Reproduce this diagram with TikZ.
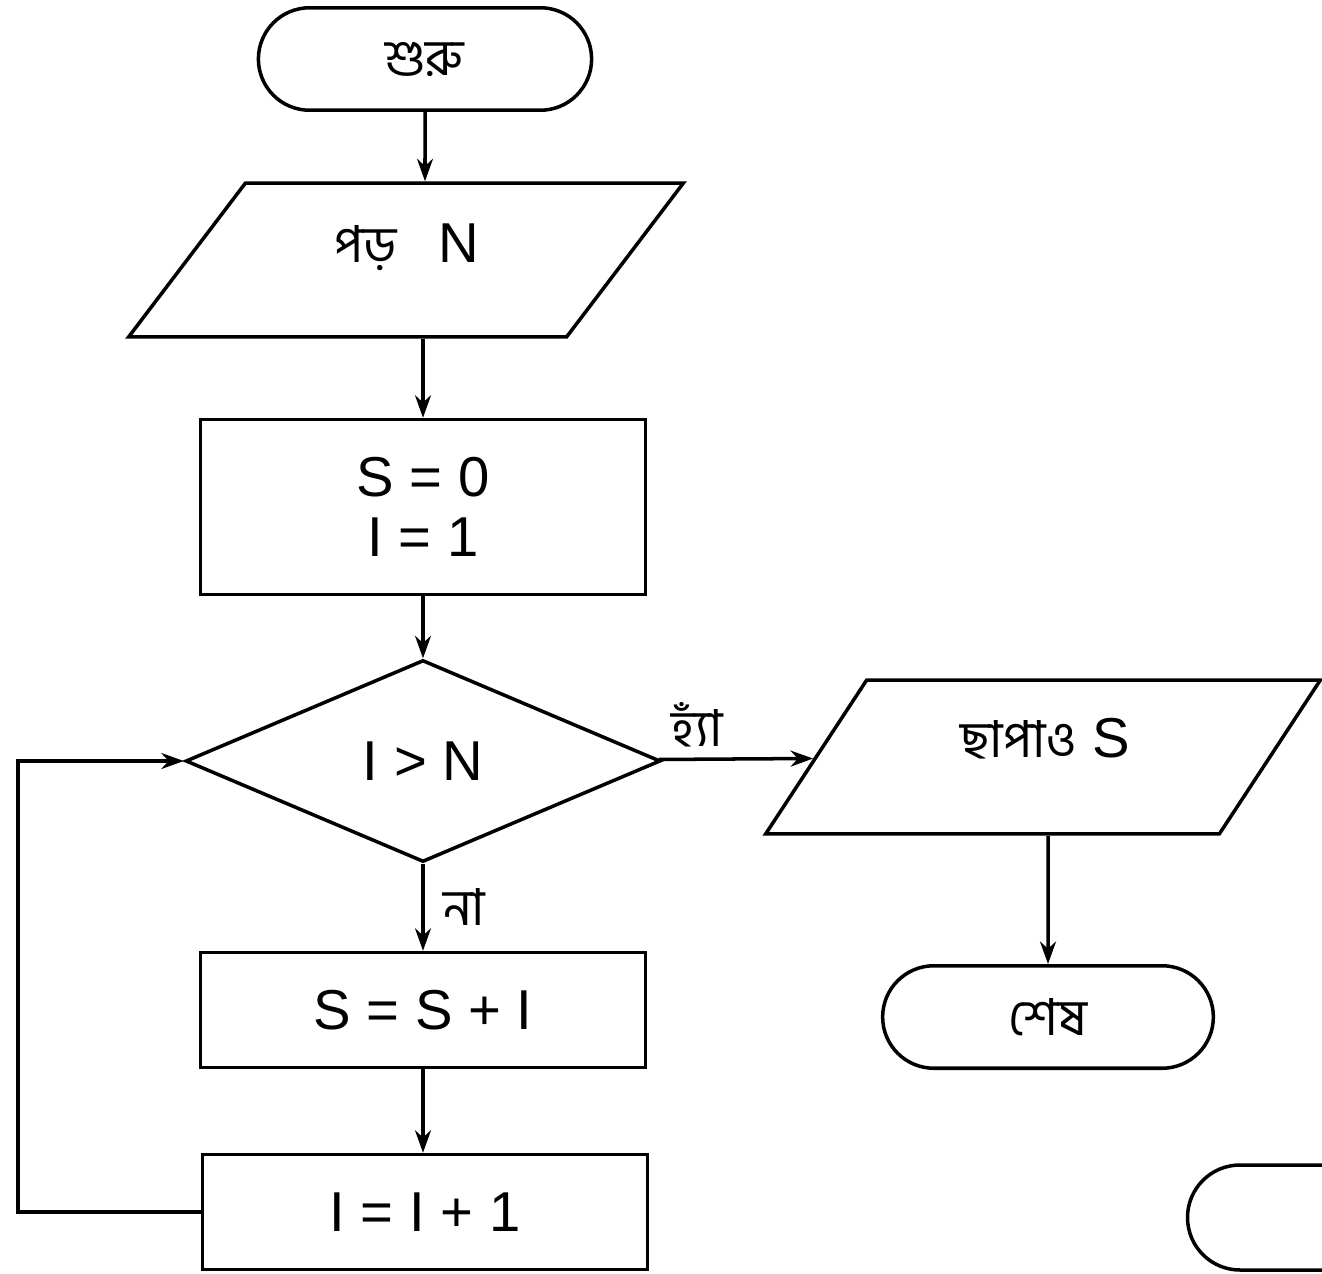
\documentclass[tikz,border=0pt]{standalone}
\usepackage{fontspec}
\setmainfont{Liberation Sans}
\newfontfamily\bn[Script=Bengali]{Hind Siliguri}
\usepackage{tikz}
\usetikzlibrary{arrows.meta,shapes.geometric,shapes.misc}

\begin{document}
\begin{tikzpicture}[
			x=0.02cm,y=-0.02cm,
			every node/.style={font=\fontsize{32}{40}\selectfont,align=center},
			term/.style={draw,line width=2pt,rounded rectangle,minimum width=6.9cm,minimum height=2.05cm},
			io/.style={draw,line width=2pt,trapezium,trapezium left angle=70,trapezium right angle=110,trapezium stretches=true,minimum width=11.1cm,minimum height=3.08cm},
			proc/.style={draw,line width=2pt,rectangle,minimum width=8.9cm,inner sep=0pt},
			dec/.style={draw,line width=2pt,diamond,aspect=2.35,minimum width=9.5cm,minimum height=4.04cm,inner sep=0pt},
			bntxt/.style={font=\bn\fontsize{29}{34}\selectfont},
			arr/.style={-{Stealth[length=4.5mm,width=3.2mm]},line width=2pt}
			]
			\useasboundingbox (0,0) rectangle (1322,1274);
			\node[term,bntxt] (start) at (425,59) {শুরু};
			\node[io] (read) at (406,260) {};
			\node[bntxt,anchor=base east] (readtxt) at (403,262) {পড়};
			\node[anchor=base west] (readn) at (432,262) {N};
			\node[proc,minimum height=3.5cm] (init) at (423,507) {S = 0\\[-6pt]I = 1};
			\node[dec] (test) at (423,761) {I > N};
			\node[proc,minimum height=2.3cm] (sum) at (423,1010) {S = S + I};
			\node[proc,minimum height=2.3cm] (inc) at (425,1212) {I = I + 1};
			\node[io,trapezium left angle=74,trapezium right angle=106] (out) at (1043,757) {};
			\node[anchor=base] (outtxt) at (1045,757) {{\bn\fontsize{29}{34}\selectfont ছাপাও} S};
			\node[term,minimum width=6.85cm,bntxt] (stop) at (1048,1017) {শেষ};
			\coordinate (back) at (18,1215);
			\draw[arr] (start) -- (start |- read.north);
			\draw[arr] (init |- read.south) -- (init);
			\draw[arr] (init) -- (test);
			\draw[arr] (test) -- node[pos=0.5,right=2.5mm,bntxt] {না} (sum);
			\draw[arr] (sum) -- (sum |- inc.north);
			\draw[arr] (test) -- node[pos=0.25,above=1mm,bntxt] {হ্যাঁ} (out);
			\draw[arr] (out.south -| stop) -- (stop);
			\draw[arr] (inc.west) -- (inc.west -| back) |- (test.west);
			% cut-off shape at the lower right
			\draw[line width=2pt] (1330,1165) -- (1240,1165) arc[start angle=270,end angle=90,radius=52.5] -- (1330,1270);
		\end{tikzpicture}
\end{document}
